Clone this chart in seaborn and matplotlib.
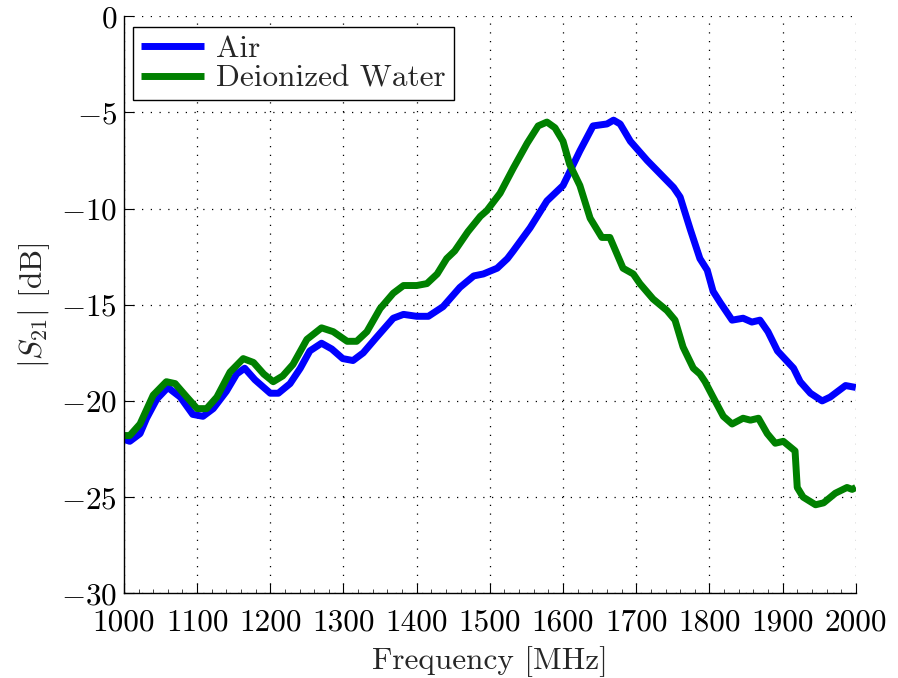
import numpy as np
import pandas as pd
import matplotlib
matplotlib.use("Agg")
import matplotlib.pyplot as plt
from matplotlib.ticker import MultipleLocator
import seaborn as sns

# ---- data ----
freq_air = [1000, 1008, 1022, 1031, 1045, 1060, 1077, 1094, 1108, 1122, 1140, 1154, 1165, 1179,
            1200, 1211, 1227, 1241, 1254, 1270, 1284, 1299, 1313, 1327, 1345, 1368, 1382, 1400,
            1416, 1436, 1459, 1478, 1491, 1510, 1524, 1532, 1555, 1578, 1600, 1623, 1641, 1660,
            1669, 1678, 1692, 1715, 1733, 1751, 1760, 1774, 1787, 1797, 1805, 1815, 1831, 1846,
            1858, 1869, 1880, 1893, 1915, 1924, 1938, 1954, 1965, 1972, 1986, 2000]
s21_air = [-22.0, -22.1, -21.7, -20.9, -19.9, -19.3, -19.8, -20.7, -20.8, -20.4, -19.5, -18.6,
           -18.3, -18.9, -19.6, -19.6, -19.1, -18.3, -17.4, -17.0, -17.3, -17.8, -17.9, -17.5,
           -16.7, -15.7, -15.5, -15.6, -15.6, -15.1, -14.1, -13.5, -13.4, -13.1, -12.6, -12.2,
           -11.0, -9.6, -8.8, -7.0, -5.7, -5.6, -5.4, -5.6, -6.5, -7.5, -8.2, -8.9, -9.4, -11.1,
           -12.6, -13.2, -14.3, -14.9, -15.8, -15.7, -15.9, -15.8, -16.4, -17.4, -18.3, -19.0,
           -19.6, -20.0, -19.8, -19.6, -19.2, -19.3]

freq_water = [1000, 1008, 1022, 1040, 1058, 1070, 1086, 1100, 1113, 1127, 1145, 1163, 1177, 1191,
              1204, 1217, 1231, 1250, 1270, 1286, 1305, 1318, 1332, 1350, 1368, 1382, 1400, 1414,
              1428, 1441, 1452, 1470, 1487, 1496, 1514, 1532, 1551, 1566, 1578, 1589, 1600, 1609,
              1623, 1637, 1653, 1664, 1682, 1696, 1705, 1723, 1742, 1753, 1764, 1778, 1787, 1794,
              1805, 1819, 1831, 1846, 1856, 1867, 1879, 1890, 1901, 1917, 1920, 1928, 1945, 1956,
              1972, 1988, 1995, 2000]
s21_water = [-21.8, -21.8, -21.2, -19.7, -19.0, -19.1, -19.8, -20.4, -20.4, -19.8, -18.5, -17.8,
             -18.0, -18.6, -19.0, -18.7, -18.1, -16.8, -16.2, -16.4, -16.9, -16.9, -16.4, -15.2,
             -14.4, -14.0, -14.0, -13.9, -13.4, -12.6, -12.2, -11.2, -10.4, -10.1, -9.2, -7.9,
             -6.6, -5.7, -5.5, -5.8, -6.5, -7.7, -8.8, -10.5, -11.5, -11.5, -13.1, -13.4, -13.9,
             -14.7, -15.3, -15.8, -17.2, -18.3, -18.6, -19.0, -19.8, -20.8, -21.2, -20.9, -21.0,
             -20.9, -21.7, -22.2, -22.1, -22.6, -24.5, -25.0, -25.4, -25.3, -24.8, -24.5, -24.6,
             -24.5]

series_names = ["Air", "Deionized Water"]
x_ticks = [1000, 1100, 1200, 1300, 1400, 1500, 1600, 1700, 1800, 1900, 2000]
y_ticks = [-30, -25, -20, -15, -10, -5, 0]

df = pd.concat([
    pd.DataFrame({"freq": freq_air, "s21": s21_air, "medium": series_names[0]}),
    pd.DataFrame({"freq": freq_water, "s21": s21_water, "medium": series_names[1]}),
], ignore_index=True)

# ---- style ----
sns.set_style("ticks")
plt.rcParams["font.family"] = ["cmr10"]
plt.rcParams["mathtext.fontset"] = "cm"
plt.rcParams["axes.formatter.use_mathtext"] = True
plt.rcParams["axes.unicode_minus"] = True
FS = 22.5

fig = plt.figure(figsize=(8.98, 6.78), dpi=100)
ax = fig.add_axes([0.138, 0.125, 0.953 - 0.138, 0.976 - 0.125])

sns.lineplot(data=df, x="freq", y="s21", hue="medium", hue_order=series_names,
             palette=[(0, 0, 1), (0, 0.5, 0)], linewidth=5.0, sort=False,
             estimator=None, ax=ax)
for ln in ax.get_lines():
    ln.set_solid_joinstyle("round")
    ln.set_solid_capstyle("butt")

ax.set_xlim(1000, 2000)
ax.set_ylim(-30, 0)
ax.set_xticks(x_ticks)
ax.set_xticklabels([str(t) for t in x_ticks])
ax.set_yticks(y_ticks)
ax.xaxis.set_minor_locator(MultipleLocator(20))

ax.grid(True, which="major", color="black", linestyle=(0, (1, 6)), linewidth=0.9)
for s in ["top", "right"]:
    ax.spines[s].set_visible(False)
for s in ["left", "bottom"]:
    ax.spines[s].set_linewidth(1.0)
    ax.spines[s].set_color("black")

ax.tick_params(axis="both", which="major", direction="in", length=7, width=0.8,
               labelsize=FS, colors="black")
ax.tick_params(axis="x", which="major", pad=11)
ax.tick_params(axis="y", which="major", pad=5)
ax.tick_params(axis="x", which="minor", direction="in", length=3, width=0.6)

ax.set_xlabel("Frequency [MHz]", fontsize=FS, labelpad=7)
ax.set_ylabel(r"$|S_{21}|$ [dB]", fontsize=FS, labelpad=6)

leg = ax.legend(loc="upper left", bbox_to_anchor=(0.013, 0.981), fontsize=FS,
                frameon=True, fancybox=False, framealpha=1, edgecolor="black",
                handlelength=2.0, handletextpad=0.4, labelspacing=0.05,
                borderpad=0.25, borderaxespad=0.0)
leg.get_frame().set_linewidth(1.0)
for line in leg.get_lines():
    line.set_linewidth(5.0)

fig.savefig("out.png", dpi=100)
